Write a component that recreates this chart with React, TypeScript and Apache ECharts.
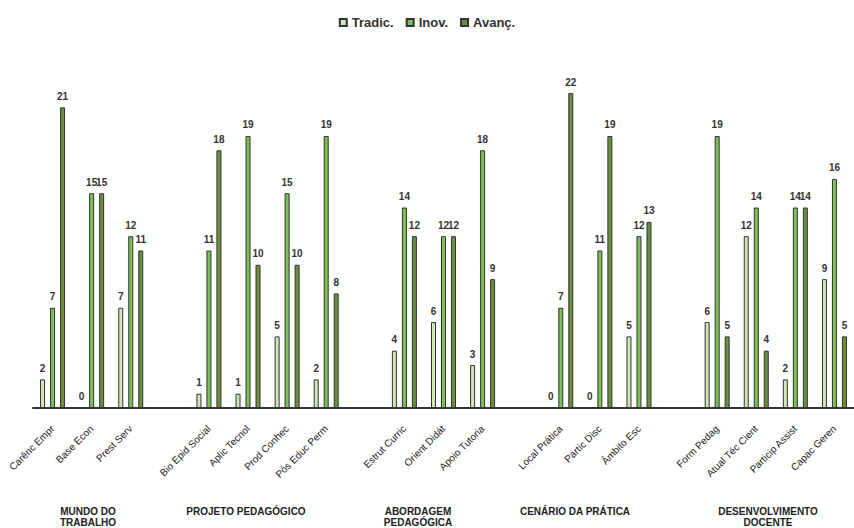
import React, { useEffect, useRef } from "react";
import * as echarts from "echarts";

const categories = [
  "Carênc Empr", "Base Econ", "Prest Serv", "",
  "Bio Epid Social", "Aplic Tecnol", "Prod Conhec", "Pós Educ Perm", "",
  "Estrut Curric", "Orient Didát", "Apoio Tutoria", "",
  "Local Prática", "Partic Disc", "Âmbito Esc", "",
  "Form Pedag", "Atual Téc Cient", "Particip Assist", "Capac Geren",
];
const tradic = [2, 0, 7, null, 1, 1, 5, 2, null, 4, 6, 3, null, 0, 0, 5, null, 6, 12, 2, 9];
const inov = [7, 15, 12, null, 11, 19, 15, 19, null, 14, 12, 18, null, 7, 11, 12, null, 19, 14, 14, 16];
const avanc = [21, 15, 11, null, 18, 10, 10, 8, null, 12, 12, 9, null, 22, 19, 13, null, 5, 4, 14, 5];
const seriesNames = ["Tradic.", "Inov.", "Avanç."];
const groupLabels = [
  { text: "MUNDO DO\nTRABALHO", x: 88 },
  { text: "PROJETO PEDAGÓGICO", x: 246 },
  { text: "ABORDAGEM\nPEDAGÓGICA", x: 418 },
  { text: "CENÁRIO DA PRÁTICA", x: 575 },
  { text: "DESENVOLVIMENTO\nDOCENTE", x: 768 },
];

const colors = ["#cfe6b8", "#79c253", "#6a8f3c"];
const FONT = "'Liberation Sans', Arial, sans-serif";

export default function App() {
  const ref = useRef<HTMLDivElement>(null);
  useEffect(() => {
    const chart = echarts.init(ref.current!, null, { renderer: "svg" });
    const data = [tradic, inov, avanc];
    chart.setOption({
      animation: false,
      textStyle: { fontFamily: FONT },
      legend: {
        top: 11,
        left: "center",
        icon: "rect",
        itemWidth: 7,
        itemHeight: 7,
        itemGap: 12,
        textStyle: { fontSize: 13, fontWeight: "bold", color: "#333", fontFamily: FONT },
        data: seriesNames,
      },
      grid: { left: 33, right: -7, top: 93, bottom: 120 },
      xAxis: {
        type: "category",
        data: categories,
        axisLine: { lineStyle: { color: "#333", width: 2 } },
        axisTick: { show: false },
        axisLabel: {
          rotate: 45,
          interval: 0,
          fontSize: 10,
          color: "#222",
          margin: 19,
          fontFamily: FONT,
        },
      },
      yAxis: {
        type: "value",
        min: 0,
        max: 22,
        show: false,
        splitLine: { show: false },
      },
      series: seriesNames.map((name, i) => ({
        name,
        type: "bar",
        data: data[i],
        barWidth: 5,
        barGap: "100%",
        itemStyle: { color: colors[i], borderColor: "#333", borderWidth: 1 },
        label: {
          show: true,
          position: "top",
          fontSize: 10,
          fontWeight: "bold",
          color: "#333",
          distance: 6,
          fontFamily: FONT,
        },
      })),
      graphic: groupLabels.map((g) => ({
        type: "text",
        x: g.x,
        y: 506,
        style: {
          text: g.text,
          fill: "#222",
          font: `bold 10px ${FONT}`,
          align: "center",
          verticalAlign: "top",
          lineHeight: 11,
        },
      })),
    });
    return () => chart.dispose();
  }, []);
  return <div ref={ref} style={{ width: 854, height: 528, position: "absolute", left: 0, top: 0 }} />;
}
